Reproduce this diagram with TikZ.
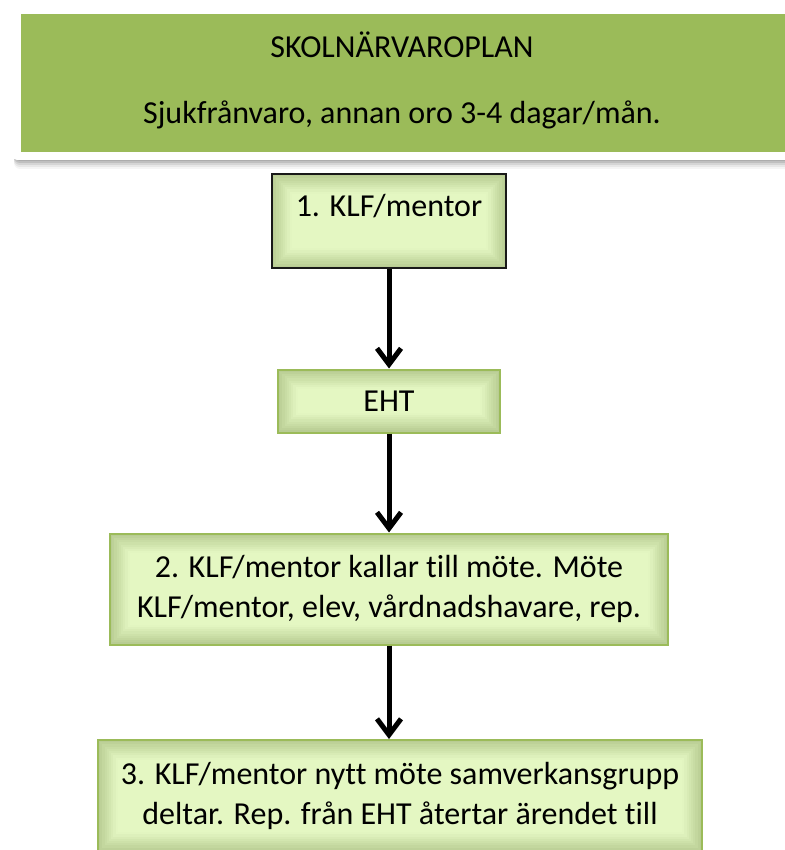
\documentclass[tikz,border=0pt]{standalone}
\usepackage{fontspec}
\setmainfont{Carlito}[Ligatures=NoCommon]
\usetikzlibrary{arrows.meta}
\definecolor{gron}{HTML}{9BBB59}
\definecolor{ljus}{HTML}{E4F7C2}
\definecolor{kant}{HTML}{7A9050}
\begin{document}
\begin{tikzpicture}[x=0.5pt,y=-0.5pt,
  ruta/.style={draw=gron, line width=1pt, fill=ljus, align=center,
    font=\fontsize{16}{20}\selectfont, inner sep=0pt,
    path picture={
      \foreach \k [evaluate=\k as \op using 0.46-0.05*\k] in {1,...,9}
        \draw[kant, line width=1.1pt, draw opacity=\op]
          ([shift={(\k*1.1pt-0.55pt,-\k*1.1pt+0.55pt)}]path picture bounding box.north west) rectangle
          ([shift={(-\k*1.1pt+0.55pt,\k*1.1pt-0.55pt)}]path picture bounding box.south east);
    }},
  pil/.style={line width=2.5pt, -{Straight Barb[length=8pt,width=12pt]}}]
\useasboundingbox (0,0) rectangle (784,850);

% rubrik
\foreach \s/\o in {9/0.04,7/0.06,5/0.08,3/0.1,1/0.1}
  \fill[black, opacity=\o, rounded corners=3pt] (14,7+\s) rectangle (800,160+\s);
\fill[white, rounded corners=2pt] (13,7) rectangle (800,160);
\fill[gron] (21,14) rectangle (800,152);
\node[align=center, font=\fontsize{16}{20}\selectfont] (rubrik) at (402,80)
  {SKOLNÄRVAROPLAN\\[13pt]Sjukfrånvaro, annan oro 3-4 dagar/mån.};

% steg
\node[ruta, draw=black!90, minimum width=117pt, minimum height=47pt, text depth=16pt] (klf) at (389,221) {1. KLF/mentor};
\node[ruta, minimum width=111pt, minimum height=31.5pt] (eht) at (389,401) {EHT};
\node[ruta, minimum width=279pt, minimum height=55.5pt] (mote) at (389,589)
  {2. KLF/mentor kallar till möte. Möte\\KLF/mentor, elev, vårdnadshavare, rep.};
\node[ruta, minimum width=302pt, minimum height=56pt] (nytt) at (400,796)
  {3. KLF/mentor nytt möte samverkansgrupp\\deltar. Rep. från EHT återtar ärendet till};

\draw[pil] (klf) -- (eht);
\draw[pil] (eht) -- (mote);
\draw[pil] (mote.south) -- (mote.south |- nytt.north);
\end{tikzpicture}
\end{document}
